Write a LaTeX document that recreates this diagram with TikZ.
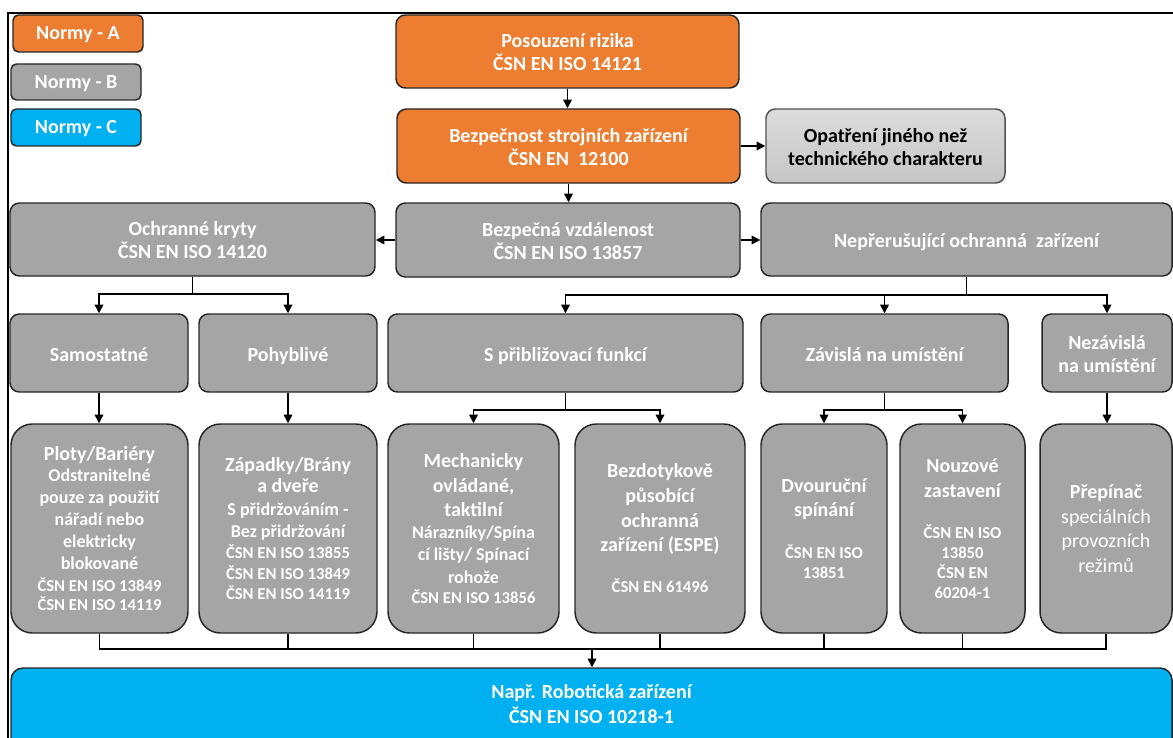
\documentclass[tikz,border=0pt]{standalone}
\usepackage{fontspec}
\setmainfont{Carlito}
\usetikzlibrary{arrows.meta}
\definecolor{cOr}{HTML}{ED7D31}
\definecolor{cGr}{HTML}{A5A5A5}
\definecolor{cBl}{HTML}{00B0F0}
\definecolor{cLtA}{HTML}{DCDCDC}
\definecolor{cLtB}{HTML}{C6C6C6}
\definecolor{cBd}{HTML}{262626}
\newcommand{\tTit}[1]{{\fontsize{15}{18}\selectfont #1}}
\newcommand{\tSub}[1]{{\fontsize{13.5}{16}\selectfont #1}}
\newcommand{\fTop}{\rule{0pt}{15.6pt}}
\newcommand{\fBot}{\rule[-4pt]{0pt}{4pt}}
\newcommand{\fOne}{\rule[-4pt]{0pt}{20pt}}
\tikzset{
 sz/.style 2 args={minimum width=#1*0.75pt, minimum height=#2*0.75pt},
 base/.style={draw=cBd, line width=1.1pt, text=white, align=center, inner sep=0pt,
   font=\bfseries\fontsize{15}{17.6}\selectfont},
 leg/.style={base, rounded corners=4pt},
 obox/.style={base, fill=cOr, rounded corners=7pt},
 gbox/.style={base, fill=cGr, rounded corners=7pt},
 lbox/.style={base, top color=cLtA, bottom color=cLtB, draw=cBd!80, text=black, rounded corners=7pt},
 tbox/.style={base, fill=cGr, rounded corners=16pt, font=\bfseries\fontsize{12.5}{14.5}\selectfont},
 bbox/.style={base, fill=cBl, rounded corners=9pt},
 ln/.style={line width=1.1pt},
 arr/.style={line width=1.1pt, -{Triangle[length=6.5pt,width=6.5pt]}},
}
\begin{document}
\begin{tikzpicture}[x=0.75pt,y=-0.75pt]
\useasboundingbox (0,0) rectangle (1173,738);
\clip (0,0) rectangle (1173,738);
\draw[line width=1.5pt] (8,13) rectangle (1200,780);

% legend
\node[leg, fill=cOr, sz={130}{37}] (legA) at (78,33.5) {\rule[-4pt]{0pt}{17.5pt}Normy - A};
\node[leg, fill=cGr, sz={130}{36}] (legB) at (76,82) {\rule[-4pt]{0pt}{17.5pt}Normy - B};
\node[leg, fill=cBl, sz={130}{37}] (legC) at (76,127.5) {\rule[-4pt]{0pt}{17.5pt}Normy - C};

% top
\node[obox, sz={343}{73}] (ris) at (567.5,51.5) {\fTop Posouzení rizika\\ČSN EN ISO 14121\fBot};
\node[obox, sz={343}{74}] (bez) at (568.5,146) {\fTop Bezpečnost strojních zařízení\\ČSN EN \ 12100\fBot};
\node[lbox, sz={239}{74}] (opa) at (885.5,146) {\fTop Opatření jiného než\\technického charakteru\fBot};

% row 2
\node[gbox, sz={365}{73}] (och) at (192.5,239.5) {\fTop Ochranné kryty\\ČSN EN ISO 14120\fBot};
\node[gbox, sz={344}{74}] (vzd) at (568,240) {\fTop Bezpečná vzdálenost\\ČSN EN ISO 13857\fBot};
\node[gbox, sz={411}{73}] (nep) at (966.5,239.5) {\fOne Nepřerušující ochranná \ zařízení};

% row 3
\node[gbox, sz={178}{78}] (sam) at (99,353) {\fOne Samostatné};
\node[gbox, sz={178}{78}] (poh) at (288,353) {\fOne Pohyblivé};
\node[gbox, sz={355}{78}] (pri) at (565.5,353) {\fOne S přibližovací funkcí};
\node[gbox, sz={247}{78}] (zav) at (884.5,353) {\fOne Závislá na umístění};
\node[gbox, sz={130}{78}] (nez) at (1107,353) {\fTop Nezávislá\\na umístění\fBot};

% row 4
\node[tbox, sz={177}{209}] (plo) at (99.5,528.5) {\tTit{Ploty/Bariéry}\\[1.5pt]
 \tSub{Odstranitelné}\\[2pt]
 \tSub{pouze za použití}\\[2pt]
 \tSub{nářadí nebo}\\[2pt]
 \tSub{elektricky}\\[2pt]
 \tSub{blokované}\\[1.5pt]
 ČSN EN ISO 13849\\
 ČSN EN ISO 14119};
\node[tbox, sz={178}{209}] (zap) at (288,528.5) {\tTit{Západky/Brány}\\[1.5pt]
 \tTit{a dveře}\\[2.5pt]
 \tSub{S přidržováním -}\\[2pt]
 \tSub{Bez přidržování}\\[1.5pt]
 ČSN EN ISO 13855\\[1pt]
 ČSN EN ISO 13849\\[1pt]
 ČSN EN ISO 14119};
\node[tbox, sz={171}{209}] (mec) at (473.5,528.5) {\tTit{Mechanicky}\\[4.25pt]
 \tTit{ovládané,}\\[3.75pt]
 \tTit{taktilní}\\[2pt]
 \tSub{Nárazníky/Spína}\\[2pt]
 \tSub{cí lišty/ Spínací}\\[2.75pt]
 \tSub{rohože}\\[0.5pt]
 ČSN EN ISO 13856};
\node[tbox, sz={170}{209}] (bdt) at (660,528.5) {\tTit{Bezdotykově}\\[4.25pt]
 \tTit{působící}\\[4.25pt]
 \tTit{ochranná}\\[3.5pt]
 \tTit{zařízení (ESPE)}\\[16.25pt]
 ČSN EN 61496};
\node[tbox, sz={126}{209}] (dvo) at (824,528.5) {\tTit{Dvouruční}\\[3.5pt]
 \tTit{spínání}\\[17pt]
 ČSN EN ISO\\[0.5pt]
 13851};
\node[tbox, sz={125}{209}] (nou) at (962.5,528.5) {\tTit{Nouzové}\\[4.25pt]
 \tTit{zastavení}\\[16.25pt]
 ČSN EN ISO\\[0.5pt]
 13850\\[0.5pt]
 ČSN EN\\[0.5pt]
 60204-1};
\node[tbox, sz={132}{209}, font=\fontsize{15}{18}\selectfont] (pre) at (1106,528.5) {\textbf{Přepínač}\\[0.75pt]
 speciálních\\[0.5pt]
 provozních\\[0.5pt]
 režimů};

% bottom
\node[bbox, sz={1161}{92}] (blue) at (591.5,714) {};
\node[text=white, align=center, inner sep=0pt, font=\bfseries\fontsize{15}{18.75}\selectfont] (bluetxt) at (591.5,704.5) {Např. Robotická zařízení\\ČSN EN ISO 10218-1};

% connectors
\draw[arr] (ris.south) -- (ris.south |- bez.north);
\draw[arr] (bez.east) -- (bez.east -| opa.west);
\draw[arr] (bez.south) -- (bez.south |- vzd.north);
\draw[arr] (vzd.west) -- (vzd.west -| och.east);
\draw[arr] (vzd.east) -- (vzd.east -| nep.west);

\coordinate (jO) at (192.5,294);
\draw[ln] (och.south) -- (jO);
\draw[arr] (jO) -| (sam.north);
\draw[arr] (jO) -| (poh.north);

\coordinate (jN) at (966.5,295);
\draw[ln] (nep.south) -- (jN);
\draw[arr] (jN) -| (pri.north);
\draw[arr] (jN) -| (zav.north);
\draw[arr] (jN) -| (nez.north);

\coordinate (jP) at (565.5,410);
\draw[ln] (pri.south) -- (jP);
\draw[arr] (jP) -| (mec.north);
\draw[arr] (jP) -| (bdt.north);

\coordinate (jZ) at (884.5,410);
\draw[ln] (zav.south) -- (jZ);
\draw[arr] (jZ) -| (dvo.north);
\draw[arr] (jZ) -| (nou.north);

\draw[arr] (sam.south) -- (sam.south |- plo.north);
\draw[arr] (poh.south) -- (poh.south |- zap.north);
\draw[arr] (nez.south) -- (nez.south |- pre.north);

\coordinate (jB) at (592,649);
\foreach \n in {plo,zap,mec,bdt,dvo,nou,pre} {\draw[ln] (\n.south) |- (jB);}
\draw[arr] (jB) -- (jB |- blue.north);
\end{tikzpicture}
\end{document}
